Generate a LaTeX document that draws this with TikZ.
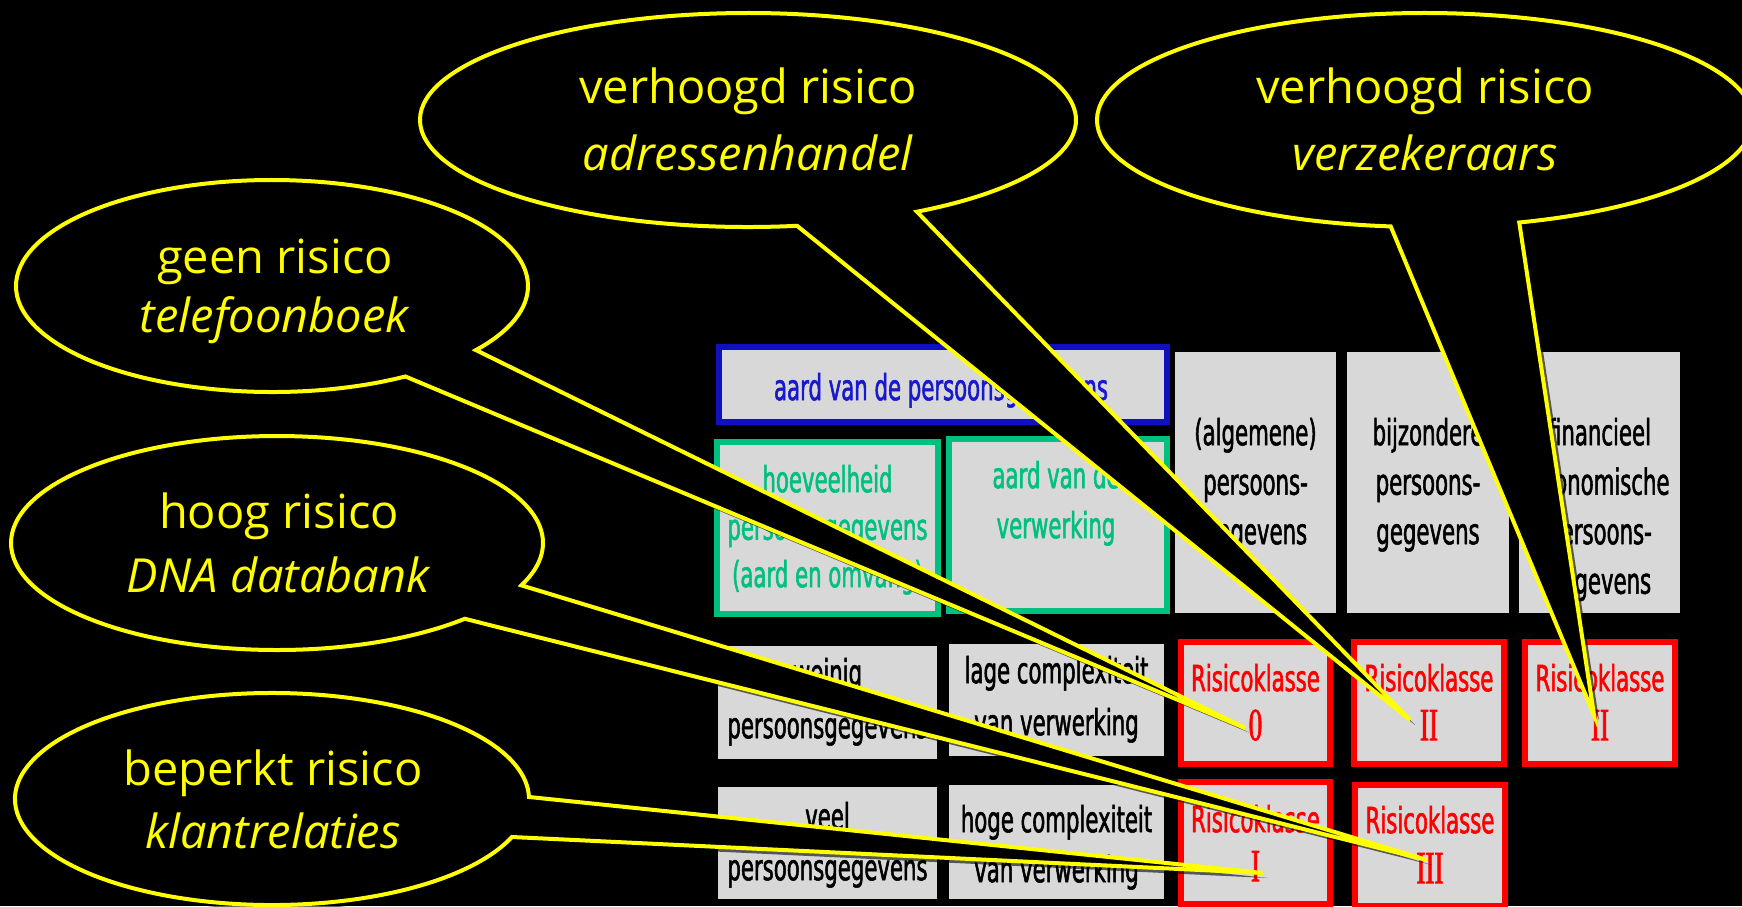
\documentclass[tikz,border=0pt]{standalone}
\usepackage{fontspec}
\usetikzlibrary{calc}
\newfontfamily\tabfont{DejaVu Sans}[FakeStretch=0.59,FakeBold=1.5]
\newfontfamily\numfont{Liberation Serif}[FakeStretch=0.59,FakeBold=1.5]
\newfontfamily\bubfont{Open Sans}
\definecolor{cellgrey}{RGB}{216,216,216}
\definecolor{boxblue}{RGB}{16,16,192}
\definecolor{txtblue}{RGB}{24,24,204}
\definecolor{boxgreen}{RGB}{0,192,128}
\definecolor{bubyellow}{RGB}{255,255,0}
\definecolor{boxred}{RGB}{255,0,0}
\newcommand\cellstrut{\rule{0pt}{30pt}}
\newcommand\bubstrut{\rule{0pt}{40pt}}
\newcommand\rnum[1]{{\numfont\fontsize{46}{49}\selectfont #1}}
\newcommand\bubpath[6]{($(#1)+(#2:#4 and #5)$) arc[start angle=#2, end angle=#3, x radius=#4, y radius=#5] -- (#6) -- cycle}
\begin{document}
\begin{tikzpicture}[x=1pt,y=-1pt,
  cell/.style={rectangle, inner sep=0pt, outer sep=0pt, fill=cellgrey},
  bluecell/.style={cell, draw=boxblue, line width=6pt},
  greencell/.style={cell, draw=boxgreen, line width=6pt},
  redcell/.style={cell, draw=boxred, line width=6pt, minimum width=150pt, minimum height=122pt},
  celltext/.style={anchor=north, inner sep=0pt, align=center, font=\tabfont\fontsize{36}{#1}\selectfont},
  celltext/.default=49,
  bubble/.style={fill=black, draw=bubyellow, line width=4pt, line join=miter},
  bubshadow/.style={fill=black, fill opacity=0.6},
  bubtext/.style={anchor=north, inner sep=0pt, align=center, text=bubyellow, font=\bubfont\fontsize{47}{#1}\selectfont},
  bubtext/.default=66]
\useasboundingbox (0,0) rectangle (1742,906);
\fill[black] (0,0) rectangle (1742,906);
\clip (0,0) rectangle (1742,906);

% ---- table: header row
\node[bluecell, minimum width=448pt, minimum height=75pt] (hdr) at (943,384.5) {};
\node[celltext, text=txtblue] (hdrT) at (941,370) {\cellstrut aard van de persoonsgegevens};

\node[greencell, minimum width=221pt, minimum height=172pt] (hoev) at (827.5,528) {};
\node[celltext=47.5, text=boxgreen] (hoevT) at (827.5,462) {\cellstrut hoeveelheid\\persoonsgegevens\\(aard en omvang)};

\node[greencell, minimum width=218pt, minimum height=172pt] (verw) at (1058,525) {};
\node[celltext=50, text=boxgreen] (verwT) at (1056,458) {\cellstrut aard van de\\verwerking};

\node[cell, minimum width=161pt, minimum height=261pt] (alg) at (1255.5,482.5) {};
\node[celltext=49.5, text=black] (algT) at (1255.5,415) {\cellstrut(algemene)\\persoons-\\gegevens};

\node[cell, minimum width=162pt, minimum height=261pt] (bijz) at (1428,482.5) {};
\node[celltext=49.5, text=black] (bijzT) at (1428,415) {\cellstrut bijzondere\\persoons-\\gegevens};

\node[cell, minimum width=161pt, minimum height=261pt] (fin) at (1599.5,482.5) {};
\node[celltext=49.5, text=black] (finT) at (1599.5,415) {\cellstrut financieel\\economische\\persoons-\\gegevens};

% ---- row 2
\node[cell, minimum width=219pt, minimum height=113pt] (weinig) at (827.5,702.5) {};
\node[celltext=53, text=black] (weinigT) at (827.5,655) {\cellstrut weinig\\persoonsgegevens};

\node[cell, minimum width=215pt, minimum height=112pt] (lage) at (1056.5,700) {};
\node[celltext=52, text=black] (lageT) at (1056.5,653) {\cellstrut lage complexiteit\\van verwerking};

\node[redcell, minimum width=149pt] (r0) at (1255.5,703) {};
\node[celltext, text=boxred] (r0T) at (1255.5,661) {\cellstrut Risicoklasse\\\rnum{0}};

\node[redcell] (rII) at (1429,703) {};
\node[celltext, text=boxred] (rIIT) at (1429,661) {\cellstrut Risicoklasse\\\rnum{II}};

\node[redcell] (rIIb) at (1600,703) {};
\node[celltext, text=boxred] (rIIbT) at (1600,661) {\cellstrut Risicoklasse\\\rnum{II}};

% ---- row 3
\node[cell, minimum width=219pt, minimum height=112pt] (veel) at (827.5,843) {};
\node[celltext=51, text=black] (veelT) at (827.5,799) {\cellstrut veel\\persoonsgegevens};

\node[cell, minimum width=215pt, minimum height=114pt] (hoge) at (1056.5,842) {};
\node[celltext=50, text=black] (hogeT) at (1056.5,802) {\cellstrut hoge complexiteit\\van verwerking};

\node[redcell, minimum width=149pt] (rI) at (1255.5,843) {};
\node[celltext, text=boxred] (rIT) at (1255.5,802) {\cellstrut Risicoklasse\\\rnum{I}};

\node[redcell, minimum height=121pt] (rIII) at (1430,845.5) {};
\node[celltext=50, text=boxred] (rIIIT) at (1430,803) {\cellstrut Risicoklasse\\\rnum{III}};

% ---- callouts
\coordinate (adrC) at (748,120);
\coordinate (verC) at (1425,120);
\coordinate (telC) at (272,286);
\coordinate (dnaC) at (277,543);
\coordinate (klaC) at (272,799);
\coordinate (adrTip) at ($(rII.center)+(-19,17)$);
\coordinate (verTip) at ($(rIIb.center)+(-6,12)$);
\coordinate (telTip) at ($(r0.center)+(-10.5,25)$);
\coordinate (dnaTip) at ($(rIII.center)+(-3,14.5)$);
\coordinate (klaTip) at ($(rI.center)+(7.5,30)$);

\begin{scope}[transform canvas={shift={(5,5)}}]
  \path[bubshadow] \bubpath{adrC}{81.4}{419}{328}{107}{adrTip};
  \path[bubshadow] \bubpath{verC}{96}{433.3}{328}{107}{verTip};
  \path[bubshadow] \bubpath{telC}{58.6}{397.2}{256}{106}{telTip};
  \path[bubshadow] \bubpath{dnaC}{45.1}{383.3}{266}{107}{dnaTip};
  \path[bubshadow] \bubpath{klaC}{21}{358.9}{257}{106}{klaTip};
\end{scope}

\path[bubble] \bubpath{adrC}{81.4}{419}{328}{107}{adrTip};
\path[bubble] \bubpath{verC}{96}{433.3}{328}{107}{verTip};
\path[bubble] \bubpath{telC}{58.6}{397.2}{256}{106}{telTip};
\path[bubble] \bubpath{dnaC}{45.1}{383.3}{266}{107}{dnaTip};
\path[bubble] \bubpath{klaC}{21}{358.9}{257}{106}{klaTip};

\node[bubtext=67] (adrT) at (748,63) {\bubstrut verhoogd risico\\\textit{adressenhandel}};
\node[bubtext=67] (verT) at (1425,63) {\bubstrut verhoogd risico\\\textit{verzekeraars}};
\node[bubtext=59] (telT) at (275,233) {\bubstrut geen risico\\\textit{telefoonboek}};
\node[bubtext=64] (dnaT) at (279,488) {\bubstrut hoog risico\\\textit{DNA databank}};
\node[bubtext=63] (klaT) at (273,745) {\bubstrut beperkt risico\\\textit{klantrelaties}};
\end{tikzpicture}
\end{document}
